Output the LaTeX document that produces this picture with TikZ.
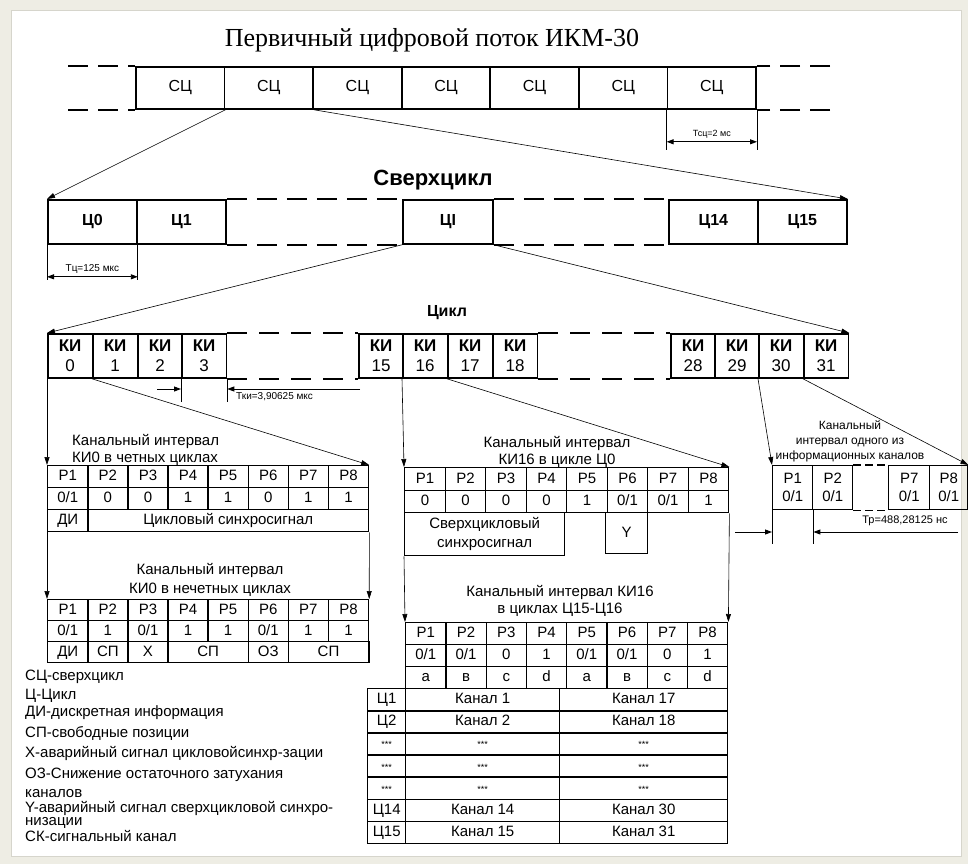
\documentclass[tikz,border=0pt]{standalone}
\usepackage{fontspec}
\setmainfont{Liberation Sans}
\newfontfamily\titlefont{Liberation Serif}
\usetikzlibrary{arrows.meta}
\definecolor{pagebg}{HTML}{EEEDE4}
\definecolor{panelrim}{HTML}{D6D5CC}
\newcommand{\starcell}{{\fontsize{9}{10}\selectfont ***}}

\begin{document}
\begin{tikzpicture}[x=1pt, y=-1pt,
    every node/.style={font=\fontsize{15}{18}\selectfont},
    box/.style 2 args={draw, line width=1.8pt, anchor=north west, minimum width=#1, minimum height=#2, inner sep=0pt, font=\fontsize{16}{19}\selectfont\bfseries},
    cell/.style 2 args={draw, line width=1.4pt, anchor=north west, minimum width=#1, minimum height=#2, inner sep=0pt, text height=11pt, text depth=3pt},
    free/.style={text height=, text depth=},
    link/.style={-{Triangle[length=8pt,width=5pt]}, line width=0.6pt},
    tick/.style={line width=0.9pt},
    tip/.style={-{Triangle[length=7pt,width=5pt]}, line width=0.9pt},
    dim/.style={{Triangle[length=7pt,width=5pt]}-{Triangle[length=7pt,width=5pt]}, line width=0.9pt},
    gapline/.style={line width=1.8pt, dash pattern=on 20pt off 10pt},
    gaprow/.style={line width=1.8pt, dash pattern=on 20pt off 12pt},
    gapthin/.style={line width=1.4pt, dash pattern=on 8pt off 4pt},
    small/.style={font=\fontsize{10}{12}\selectfont},
    caption/.style={align=center, inner sep=0pt, font=\fontsize{15}{17}\selectfont}]

    \useasboundingbox (0,0) rectangle (968,864);
    \fill[pagebg] (0,0) rectangle (968,864);
    \filldraw[fill=white, draw=panelrim, line width=1pt] (11,11) rectangle (961,856);

    % primary stream
    \node[font=\titlefont\fontsize{26}{30}\selectfont] (title) at (432,40) {Первичный цифровой поток ИКМ-30};
    \foreach \i in {1,...,7}
        \node[box={88.6pt}{42pt}, font=\fontsize{16}{19}\selectfont] (sc\i) at ({135+(\i-1)*88.6},66) {СЦ};
    \coordinate (scl) at (68,66);
    \coordinate (scr) at (830,66);
    \draw[gapline] (scl) -- (sc1.north west);
    \draw[gapline] (scl |- sc1.south) -- (sc1.south west);
    \draw[gapline] (scr) -- (sc7.north east);
    \draw[gapline] (scr |- sc7.south) -- (sc7.south east);
    \draw[tick] (sc7.south west) -- ++(0,40);
    \draw[tick] (sc7.south east) -- ++(0,40);
    \draw[dim] ([yshift=-32pt]sc7.south west) -- ([yshift=-32pt]sc7.south east)
        node[midway, above, font=\fontsize{9}{10}\selectfont] (tsc) {Тсц=2 мс};

    % superframe
    \node[font=\fontsize{22}{26}\selectfont\bfseries] (sctitle) at (433,180) {Сверхцикл};
    \node[box={89pt}{44pt}] (c0) at (47,199) {Ц0};
    \node[box={89pt}{44pt}] (c1) at (136,199) {Ц1};
    \node[box={90pt}{44pt}] (cI) at (402,199) {ЦI};
    \node[box={89pt}{44pt}] (c14) at (668,199) {Ц14};
    \node[box={89pt}{44pt}] (c15) at (757,199) {Ц15};
    \draw[gapline] (c1.north east) -- (cI.north west);
    \draw[gapline] (c1.south east) -- (cI.south west);
    \draw[gapline] (cI.north east) -- (c14.north west);
    \draw[gapline] (cI.south east) -- (c14.south west);
    \draw[link] (sc1.south east) -- (c0.north west);
    \draw[link] (sc2.south east) -- (c15.north east);
    \draw[tick] (c0.south west) -- ++(0,35);
    \draw[tick] (c0.south east) -- ++(0,35);
    \draw[dim] ([yshift=-32pt]c0.south west) -- ([yshift=-32pt]c0.south east)
        node[midway, above, small] (tc) {Тц=125 мкс};

    % frame
    \node[font=\fontsize{16}{19}\selectfont\bfseries] (cyc) at (447,313) {Цикл};
    \foreach \n/\x in {0/47, 1/92, 2/137, 3/181, 15/358, 16/402, 17/447, 18/492, 28/670, 29/714, 30/758, 31/803}
        \node[box={44.5pt}{44pt}, align=center, font=\fontsize{17}{20}\selectfont] (ki\n) at (\x,333) {\textbf{КИ}\\\n};
    \draw[gaprow] (ki3.north east) -- (ki15.north west);
    \draw[gaprow] (ki3.south east) -- (ki15.south west);
    \draw[gaprow] (ki18.north east) -- (ki28.north west);
    \draw[gaprow] (ki18.south east) -- (ki28.south west);
    \draw[link] (cI.south west) -- (ki0.north west);
    \draw[link] (cI.south east) -- (ki31.north east);
    \draw[tick] (ki3.south west) -- ++(0,23);
    \draw[tick] (ki3.south east) -- ++(0,23);
    \coordinate (tkl) at (157,389);
    \coordinate (tkr) at (360,389);
    \draw[tip] (tkl) -- (ki3.south west |- tkl);
    \draw[tip] (tkr) -- (ki3.south east |- tkl);
    \node[small, anchor=north west, inner sep=0pt] (tki) at (236,392) {Тки=3,90625 мкс};

    % KI0 even
    \node[caption, align=left, anchor=west] (elab) at (72,450) {Канальный интервал\\КИ0 в четных циклах};
    \foreach \i/\val in {1/{0/1}, 2/0, 3/0, 4/1, 5/1, 6/0, 7/1, 8/1} {
        \node[cell={40.1pt}{22pt}] (ep\i) at ({47+(\i-1)*40.1},465) {P\i};
        \node[cell={40.1pt}{22pt}] (eb\i) at ({47+(\i-1)*40.1},487) {\val};
    }
    \node[cell={40.1pt}{22pt}] (ed) at (47,509) {ДИ};
    \node[cell={280.9pt}{22pt}] (es) at (87.1,509) {Цикловый синхросигнал};

    % KI0 odd
    \node[caption, font=\fontsize{15}{19}\selectfont] (olab) at (210,580) {Канальный интервал\\КИ0 в нечетных циклах};
    \foreach \i/\val in {1/{0/1}, 2/1, 3/{0/1}, 4/1, 5/1, 6/{0/1}, 7/1, 8/1} {
        \node[cell={40.1pt}{21pt}] (op\i) at ({47+(\i-1)*40.1},599) {P\i};
        \node[cell={40.1pt}{21pt}] (ob\i) at ({47+(\i-1)*40.1},620) {\val};
    }
    \node[cell={40.1pt}{21pt}] (od) at (47,641) {ДИ};
    \node[cell={40.1pt}{21pt}] (osp1) at (87.1,641) {СП};
    \node[cell={40.1pt}{21pt}] (ox) at (127.2,641) {X};
    \node[cell={80.2pt}{21pt}] (osp2) at (167.3,641) {СП};
    \node[cell={40.1pt}{21pt}] (ooz) at (247.5,641) {ОЗ};
    \node[cell={80.5pt}{21pt}] (osp3) at (287.6,641) {СП};
    \draw[link] (ki0.south west) -- (ep1.north west);
    \draw[link] (ki1.south west) -- (ep8.north east);
    \draw[link] (ed.south west) -- (op1.north west);
    \draw[link] (es.south east) -- (op8.north east);

    % KI16 in C0
    \node[caption] (zlab) at (557,452) {Канальный интервал\\КИ16 в цикле Ц0};
    \foreach \i/\val in {1/0, 2/0, 3/0, 4/0, 5/1, 6/{0/1}, 7/{0/1}, 8/1} {
        \node[cell={40.5pt}{23pt}] (zp\i) at ({404+(\i-1)*40.5},467) {P\i};
        \node[cell={40.5pt}{22pt}] (zb\i) at ({404+(\i-1)*40.5},490) {\val};
    }
    \node[cell={160pt}{43pt}, free, align=center, font=\fontsize{15}{19}\selectfont] (zsync) at (404,512) {Сверхцикловый\\синхросигнал};
    \node[cell={42pt}{41pt}] (zy) at (605,512) {Y};
    \draw[link] (ki16.south west) -- (zp1.north west);
    \draw[link] (ki17.south west) -- (zp8.north east);

    % KI16 in C15-C16
    \node[caption] (blab) at (560,601) {Канальный интервал КИ16\\в циклах Ц15-Ц16};
    \foreach \i/\val/\ch in {1/{0/1}/a, 2/{0/1}/в, 3/0/c, 4/1/d, 5/{0/1}/a, 6/{0/1}/в, 7/0/c, 8/1/d} {
        \node[cell={40.25pt}{22pt}] (bp\i) at ({405+(\i-1)*40.25},622) {P\i};
        \node[cell={40.25pt}{22pt}] (bb\i) at ({405+(\i-1)*40.25},644) {\val};
        \node[cell={40.25pt}{22pt}] (bc\i) at ({405+(\i-1)*40.25},666) {\ch};
    }
    \draw[link] (zsync.south west) -- (bp1.north west);
    \draw[link] (zb8.south east) -- (bp8.north east);
    \foreach \j/\c/\l/\r in {1/Ц1/Канал 1/Канал 17, 2/Ц2/Канал 2/Канал 18, 3/\starcell/\starcell/\starcell,
            4/\starcell/\starcell/\starcell, 5/\starcell/\starcell/\starcell, 6/Ц14/Канал 14/Канал 30, 7/Ц15/Канал 15/Канал 31} {
        \node[cell={38pt}{22.1pt}] (chc\j) at (367,{688+(\j-1)*22.1}) {\c};
        \node[cell={154pt}{22.1pt}] (chl\j) at (405,{688+(\j-1)*22.1}) {\l};
        \node[cell={168pt}{22.1pt}] (chr\j) at (559,{688+(\j-1)*22.1}) {\r};
    }

    % information channel
    \node[caption, font=\fontsize{12}{15}\selectfont] (rlab) at (850,441) {Канальный\\интервал одного из\\информационных каналов};
    \node[cell={40pt}{44pt}, free, align=center] (r1) at (772,465) {P1\\0/1};
    \node[cell={40pt}{44pt}, free, align=center] (r2) at (812,465) {P2\\0/1};
    \node[cell={41pt}{44pt}, free, align=center] (r7) at (888,465) {P7\\0/1};
    \node[cell={38pt}{44pt}, free, align=center] (r8) at (929,465) {P8\\0/1};
    \draw[gapthin] (r2.north east) -- (r7.north west);
    \draw[gapthin] (r2.south east) -- (r7.south west);
    \draw[link] (ki30.south west) -- (r1.north west);
    \draw[link] (ki31.south west) -- (r8.north east);
    \draw[tick] (r1.south west) -- ++(0,34);
    \draw[tick] (r1.south east) -- ++(0,34);
    \coordinate (trl) at (735,532);
    \coordinate (trr) at (958,532);
    \draw[tip] (trl) -- (r1.south west |- trl);
    \draw[tip] (trr) -- (r1.south east |- trl);
    \node[font=\fontsize{11}{13}\selectfont] (trlab) at (905,521) {Тр=488,28125 нс};

    % legend
    \foreach \y/\t [count=\k] in {677/СЦ-сверхцикл, 696/Ц-Цикл, 713/ДИ-дискретная информация,
            733/СП-свободные позиции, 753/X-аварийный сигнал цикловойсинхр-зации,
            775/ОЗ-Снижение остаточного затухания, 794/каналов,
            808/Y-аварийный сигнал сверхцикловой синхро-, 823/низации, 836/СК-сигнальный канал}
        \node[anchor=west, inner sep=0pt] (leg\k) at (25,\y) {\t};
\end{tikzpicture}
\end{document}
